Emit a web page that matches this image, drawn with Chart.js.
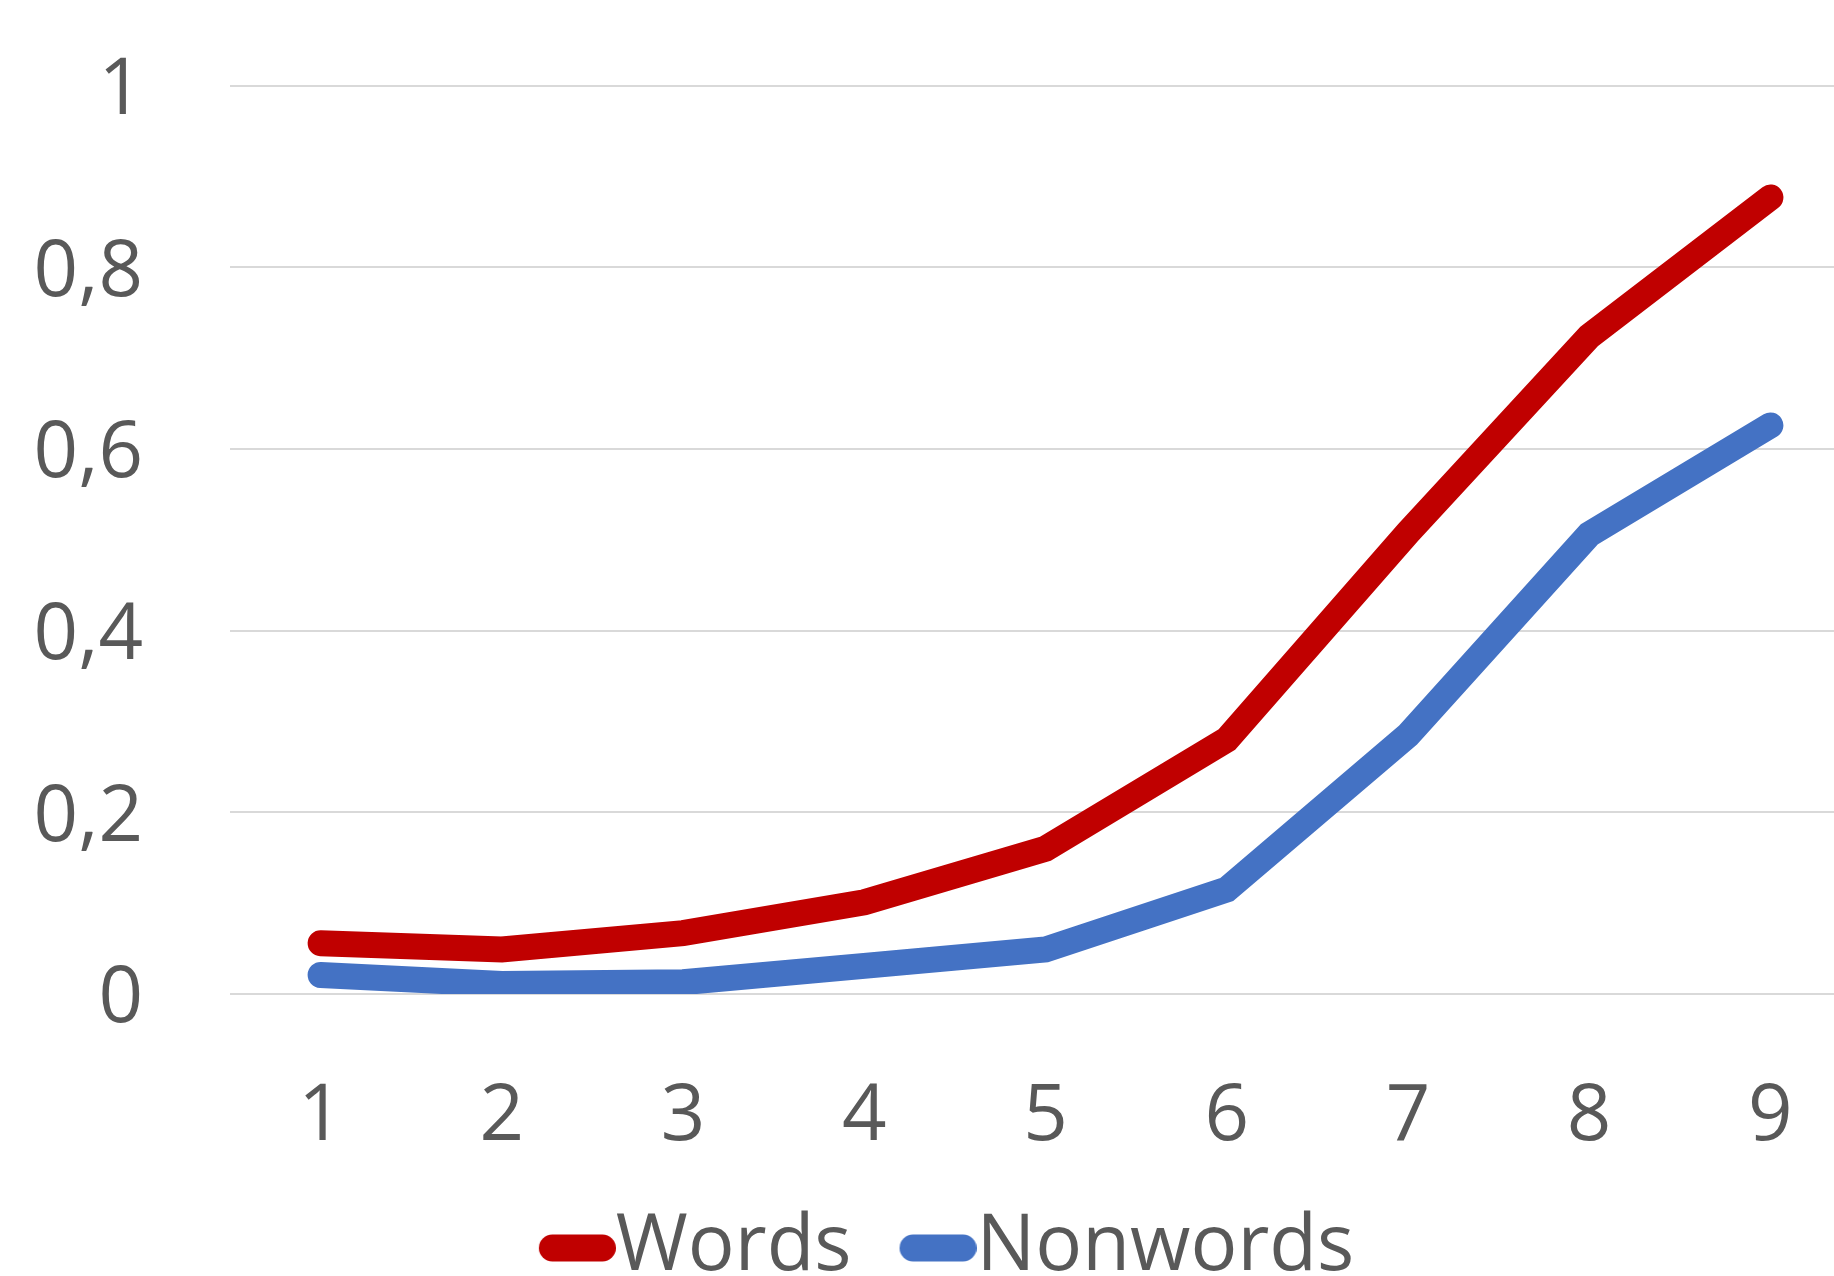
<!DOCTYPE html>
<html>
<head>
<meta charset="utf-8">
<script src="https://cdn.jsdelivr.net/npm/chart.js@4/dist/chart.umd.min.js"></script>
<style>
  html, body { margin: 0; padding: 0; background: #ffffff; overflow: hidden; width: 1834px; height: 1276px; }
  #wrap { position: absolute; left: 0; top: -48px; width: 1890px; height: 1345px; }
</style>
</head>
<body>
<div id="wrap"><canvas id="chart" width="1890" height="1345"></canvas></div>
<script>
// Positions 1..9 along the horizontal axis
const categories = ['1', '2', '3', '4', '5', '6', '7', '8', '9'];

// Proportion per position
const wordsValues    = [0.056, 0.049, 0.067, 0.101, 0.160, 0.280, 0.508, 0.724, 0.877];
const nonwordsValues = [0.021, 0.011, 0.013, 0.031, 0.049, 0.115, 0.285, 0.506, 0.626];

// Vertical axis labels use a decimal comma
const yTickLabels = ['0', '0,2', '0,4', '0,6', '0,8', '1'];

const seriesNames = ['Words', 'Nonwords'];
const seriesColors = ['#c00000', '#4472c4'];

const FONT_SIZE = 78;
const TEXT_COLOR = '#595959';
const LINE_W = 26;
const LEFT_PAD = 30;

// Rounded legend swatch, right-aligned inside its canvas so it sits against the label text
function makeSwatch(color) {
  const w = 118, h = 30, len = 77;
  const c = document.createElement('canvas');
  c.width = w; c.height = h;
  const g = c.getContext('2d');
  g.strokeStyle = color;
  g.lineWidth = 27;
  g.lineCap = 'round';
  g.beginPath();
  g.moveTo(w - len + 13.5, h / 2);
  g.lineTo(w - 13.5, h / 2);
  g.stroke();
  return c;
}

function draw() {
  Chart.defaults.font.family = '"Open Sans", Lato, sans-serif';
  Chart.defaults.color = TEXT_COLOR;

  const mk = (i, values) => ({
    label: seriesNames[i],
    data: values,
    borderColor: seriesColors[i],
    backgroundColor: seriesColors[i],
    borderWidth: LINE_W,
    borderCapStyle: 'round',
    borderJoinStyle: 'miter',
    tension: 0,
    pointRadius: 0,
    pointHoverRadius: 0,
    pointStyle: makeSwatch(seriesColors[i]),
    fill: false
  });

  new Chart(document.getElementById('chart'), {
    type: 'line',
    data: {
      labels: categories,
      datasets: [mk(0, wordsValues), mk(1, nonwordsValues)]
    },
    options: {
      responsive: false,
      animation: false,
      devicePixelRatio: 1,
      layout: { padding: { top: 38, left: LEFT_PAD, right: 29, bottom: 0 } },
      plugins: {
        title: { display: false },
        tooltip: { enabled: false },
        legend: {
          position: 'bottom',
          labels: {
            usePointStyle: true,
            padding: 46,
            font: { size: FONT_SIZE },
            color: TEXT_COLOR
          }
        }
      },
      scales: {
        x: {
          offset: true,
          grid: { display: false, drawTicks: false },
          border: { display: false },
          ticks: { font: { size: FONT_SIZE }, color: TEXT_COLOR, padding: 77 },
          afterFit: (scale) => { scale.height = 169; }
        },
        y: {
          min: 0,
          max: 1,
          grid: { color: '#d9d9d9', lineWidth: 2, drawTicks: false },
          border: { display: false },
          ticks: {
            stepSize: 0.2,
            font: { size: FONT_SIZE },
            color: TEXT_COLOR,
            padding: 87,
            labelOffset: 6,
            callback: (v, i) => yTickLabels[i]
          },
          afterFit: (scale) => { scale.width = 230 - LEFT_PAD; }
        }
      }
    }
  });
}

if (document.fonts && document.fonts.load) {
  document.fonts.load('78px "Open Sans"').then(draw, draw);
} else {
  draw();
}
</script>
</body>
</html>
